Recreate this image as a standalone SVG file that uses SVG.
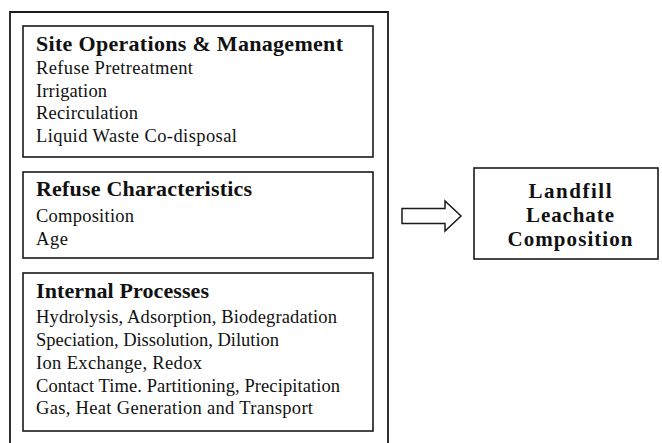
<svg xmlns="http://www.w3.org/2000/svg" width="662" height="443" viewBox="0 0 662 443">
  <style>
    .frame { fill: none; stroke: #1a1a1a; stroke-width: 1.8; }
    .box { fill: #ffffff; stroke: #1a1a1a; stroke-width: 1.6; }
    .title { font-family: "Liberation Serif", "Times New Roman", serif; font-weight: bold; font-size: 22px; fill: #111111; }
    .item { font-family: "Liberation Serif", "Times New Roman", serif; font-size: 18.5px; fill: #111111; }
    .result { font-family: "Liberation Serif", "Times New Roman", serif; font-weight: bold; font-size: 21px; fill: #111111; text-anchor: middle; }
    .arrow { fill: #ffffff; stroke: #1a1a1a; stroke-width: 1.5; stroke-linejoin: miter; }
  </style>
  <rect x="0" y="0" width="662" height="443" fill="#ffffff"/>

  <!-- enclosing frame of the contributing factors (open at the bottom) -->
  <g id="factors">
    <path class="frame" d="M10,443 V12 H388 V443"/>

    <g id="site-operations">
      <rect class="box" x="23" y="26" width="350" height="131"/>
      <text class="title" x="36" y="51" textLength="307" lengthAdjust="spacing">Site Operations &amp; Management</text>
      <text class="item" x="36" y="74" textLength="157" lengthAdjust="spacing">Refuse Pretreatment</text>
      <text class="item" x="36" y="97" textLength="71" lengthAdjust="spacing">Irrigation</text>
      <text class="item" x="36" y="119" textLength="102" lengthAdjust="spacing">Recirculation</text>
      <text class="item" x="36" y="142" textLength="201" lengthAdjust="spacing">Liquid Waste Co-disposal</text>
    </g>

    <g id="refuse-characteristics">
      <rect class="box" x="23" y="172" width="350" height="86"/>
      <text class="title" x="36" y="196" textLength="216" lengthAdjust="spacing">Refuse Characteristics</text>
      <text class="item" x="36" y="222" textLength="98" lengthAdjust="spacing">Composition</text>
      <text class="item" x="36" y="245" textLength="32" lengthAdjust="spacing">Age</text>
    </g>

    <g id="internal-processes">
      <rect class="box" x="23" y="273" width="350" height="158"/>
      <text class="title" x="36" y="298" textLength="173" lengthAdjust="spacing">Internal Processes</text>
      <text class="item" x="36" y="323" textLength="301" lengthAdjust="spacing">Hydrolysis, Adsorption, Biodegradation</text>
      <text class="item" x="36" y="346" textLength="243" lengthAdjust="spacing">Speciation, Dissolution, Dilution</text>
      <text class="item" x="36" y="369" textLength="166" lengthAdjust="spacing">Ion Exchange, Redox</text>
      <text class="item" x="36" y="392" textLength="304" lengthAdjust="spacing">Contact Time. Partitioning, Precipitation</text>
      <text class="item" x="36" y="414" textLength="277" lengthAdjust="spacing">Gas, Heat Generation and Transport</text>
    </g>
  </g>

  <!-- block arrow -->
  <g id="connectors">
    <polygon class="arrow" points="402,208.5 445,208.5 445,201 461,216 445,231 445,223.5 402,223.5"/>
  </g>

  <g id="leachate-composition">
    <rect class="box" x="474" y="168" width="184" height="91"/>
    <text class="result" x="570" y="198" textLength="83" lengthAdjust="spacing">Landfill</text>
    <text class="result" x="570" y="222" textLength="88" lengthAdjust="spacing">Leachate</text>
    <text class="result" x="570" y="246" textLength="125" lengthAdjust="spacing">Composition</text>
  </g>
</svg>
